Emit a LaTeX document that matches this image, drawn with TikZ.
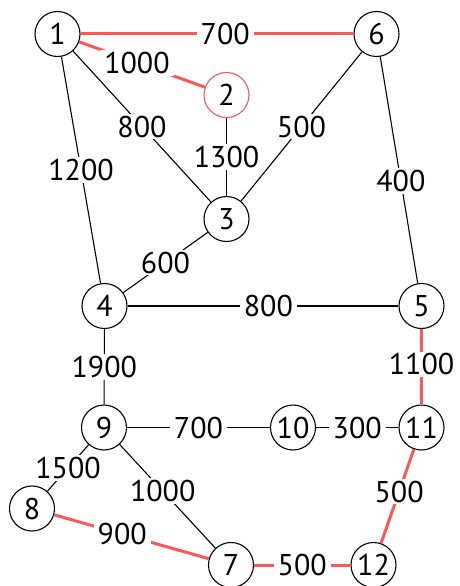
\documentclass[tikz,border=0pt]{standalone}
\usepackage{fontspec}
\setmainfont{PT Sans}
\definecolor{edgered}{RGB}{252,88,88}
\begin{document}
\begin{tikzpicture}[x=1pt,y=-1pt,
  vtx/.style={circle,draw=black,line width=1.1pt,fill=white,minimum size=45pt,inner sep=0pt,font=\fontsize{30}{30}\selectfont},
  redvtx/.style={vtx,draw=edgered},
  lbl/.style={fill=white,inner xsep=4pt,inner ysep=2pt,font=\fontsize{30}{30}\selectfont},
  blk/.style={draw=black,line width=1.1pt},
  rd/.style={draw=edgered,line width=3pt}]
\useasboundingbox (0,0) rectangle (460,586);
\node[vtx] (n1) at (57.5,34) {1};
\node[vtx] (n6) at (376.5,34) {6};
\node[redvtx] (n2) at (226.5,95) {2};
\node[vtx] (n3) at (226.5,219) {3};
\node[vtx] (n4) at (104.5,306) {4};
\node[vtx] (n5) at (421.5,306) {5};
\node[vtx] (n9) at (104,427.5) {9};
\node[vtx] (n10) at (293,427.5) {10};
\node[vtx] (n11) at (421.5,427.5) {11};
\node[vtx] (n8) at (32,508.5) {8};
\node[vtx] (n7) at (231,565) {7};
\node[vtx] (n12) at (373.5,565) {12};
\path[rd] (n1) -- node[lbl,pos=0.53] {700} (n6);
\path[rd] (n1) -- node[lbl,pos=0.46] {1000} (n2);
\path[blk] (n1) -- node[lbl,pos=0.5] {800} (n3);
\path[blk] (n1) -- node[lbl,pos=0.5] {1200} (n4);
\path[blk] (n2) -- node[lbl,pos=0.5] {1300} (n3);
\path[blk] (n6) -- node[lbl,pos=0.5] {500} (n3);
\path[blk] (n6) -- node[lbl,pos=0.55] {400} (n5);
\path[blk] (n3) -- node[lbl,pos=0.5] {600} (n4);
\path[blk] (n4) -- node[lbl,pos=0.52] {800} (n5);
\path[blk] (n4) -- node[lbl,pos=0.5] {1900} (n9);
\path[rd] (n5) -- node[lbl,pos=0.47] {1100} (n11);
\path[blk] (n9) -- node[lbl,pos=0.5] {700} (n10);
\path[blk] (n10) -- node[lbl,pos=0.5] {300} (n11);
\path[blk] (n9) -- node[lbl,pos=0.5] {1500} (n8);
\path[blk] (n9) -- node[lbl,pos=0.45] {1000} (n7);
\path[rd] (n8) -- node[lbl,pos=0.44] {900} (n7);
\path[rd] (n7) -- node[lbl,pos=0.5] {500} (n12);
\path[rd] (n11) -- node[lbl,pos=0.45] {500} (n12);
\end{tikzpicture}
\end{document}
